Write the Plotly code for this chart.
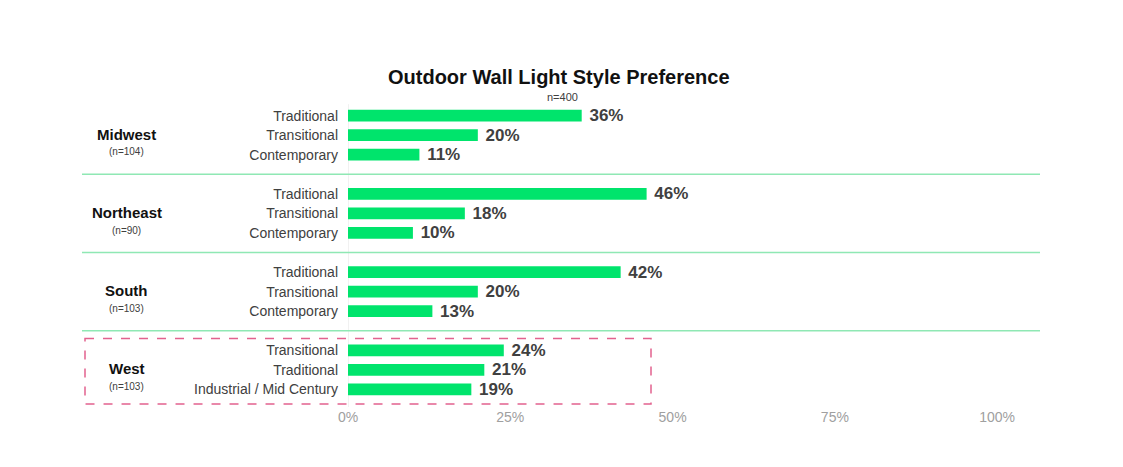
import plotly.graph_objects as go

regions = ["Midwest", "Northeast", "South", "West"]
region_n = ["(n=104)", "(n=90)", "(n=103)", "(n=103)"]
styles = [
    ["Traditional", "Transitional", "Contemporary"],
    ["Traditional", "Transitional", "Contemporary"],
    ["Traditional", "Transitional", "Contemporary"],
    ["Transitional", "Traditional", "Industrial / Mid Century"],
]
values = [
    [36, 20, 11],
    [46, 18, 10],
    [42, 20, 13],
    [24, 21, 19],
]
x_ticks = [0, 25, 50, 75, 100]
x_tick_labels = ["0%", "25%", "50%", "75%", "100%"]

title = "Outdoor Wall Light Style Preference"
subtitle = "n=400"

FONT = "Liberation Sans, Arial, sans-serif"
GREEN = "#00e46c"
SEP = "#8fe8b4"
PINK = "#e2628e"
DARK = "#404040"

ys, xs, labels = [], [], []
for g, (sty, vals) in enumerate(zip(styles, values)):
    for i, (s, v) in enumerate(zip(sty, vals)):
        ys.append(g * 4 + i)
        xs.append(v)
        labels.append(s)

fig = go.Figure()
fig.add_trace(go.Bar(
    x=xs, y=ys, orientation="h", width=0.6,
    marker=dict(color=GREEN, line=dict(width=0)),
    text=[f" {v}%" for v in xs], textposition="outside", constraintext="none",
    textfont=dict(size=17, color=DARK, family=FONT, weight="bold"),
    cliponaxis=False, hoverinfo="skip",
))

W, H = 1123, 467
L, R, T, B = 348, 83, 98, 60
plot_w = W - L - R
plot_h = H - T - B
y_lo, y_hi = -0.9, 14.9

def px_to_paper_x(px):
    return (px - L) / plot_w

shapes = []
for g in range(3):
    shapes.append(dict(type="line", xref="paper", yref="y",
                       x0=px_to_paper_x(82), x1=1, y0=g * 4 + 3, y1=g * 4 + 3,
                       line=dict(color=SEP, width=1.5)))
# dashed box around West
shapes.append(dict(type="rect", xref="paper", yref="y",
                   x0=px_to_paper_x(85), x1=px_to_paper_x(651),
                   y0=3 * 4 - 0.6, y1=3 * 4 + 2.75,
                   line=dict(color=PINK, width=1.5, dash="dash"),
                   fillcolor="rgba(0,0,0,0)"))

annotations = [
    dict(text=f"<b>{title}</b>", xref="paper", yref="paper",
         x=px_to_paper_x(559), y=1 + (T - 77) / plot_h, xanchor="center", yanchor="middle",
         showarrow=False, font=dict(size=20, color="#111111", family=FONT)),
    dict(text=subtitle, xref="paper", yref="paper",
         x=px_to_paper_x(562), y=1 + (T - 97) / plot_h, xanchor="center", yanchor="middle",
         showarrow=False, font=dict(size=11, color=DARK, family=FONT)),
]
for g, (r, n) in enumerate(zip(regions, region_n)):
    annotations.append(dict(text=f"<b>{r}</b>", xref="paper", yref="y",
                            x=px_to_paper_x(127), y=g * 4 + 0.95, xanchor="center", yanchor="middle",
                            showarrow=False, font=dict(size=15, color="#111111", family=FONT)))
    annotations.append(dict(text=n, xref="paper", yref="y",
                            x=px_to_paper_x(127), y=g * 4 + 1.85, xanchor="center", yanchor="middle",
                            showarrow=False, font=dict(size=10, color=DARK, family=FONT)))

fig.update_layout(
    width=W, height=H,
    margin=dict(l=L, r=R, t=T, b=B),
    paper_bgcolor="white", plot_bgcolor="white",
    showlegend=False,
    font=dict(family=FONT),
    shapes=shapes, annotations=annotations,
    xaxis=dict(range=[0, 106.6], tickvals=x_ticks, ticktext=x_tick_labels,
               showgrid=False, zeroline=False, showline=False,
               tickfont=dict(size=14, color="#a0a0a0", family=FONT)),
    yaxis=dict(range=[y_hi, y_lo], tickvals=ys, ticktext=labels,
               showgrid=False, zeroline=False, showline=False, ticks="",
               ticklabelstandoff=9,
               tickfont=dict(size=14, color=DARK, family=FONT)),
)
# vertical zero line
fig.add_shape(type="line", xref="x", yref="paper", x0=0, x1=0, y0=0, y1=0.98,
              line=dict(color="#e3e3e3", width=1), layer="below")

fig.write_html("out.html")
